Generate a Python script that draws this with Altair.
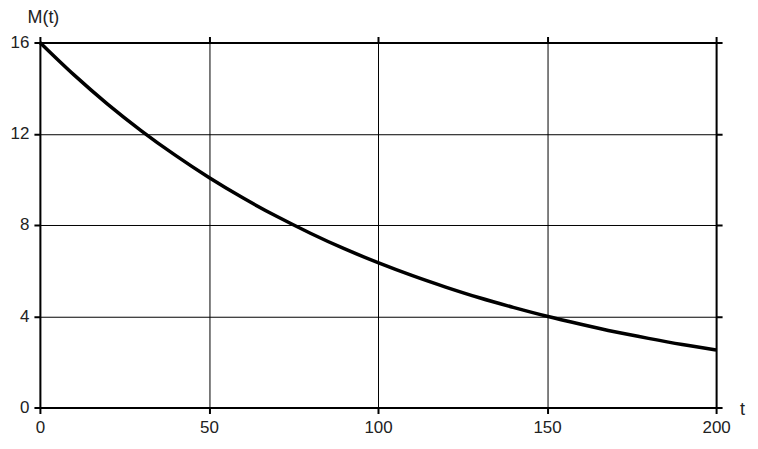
import altair as alt
import pandas as pd

# values
t_vals = [0, 10, 20, 30, 40, 50, 60, 70, 80, 90, 100, 110, 120, 130, 140, 150, 160, 170, 180, 190, 200]
m_vals = [16.0, 14.59, 13.3, 12.13, 11.06, 10.08, 9.19, 8.38, 7.64, 6.96, 6.35, 5.79, 5.28, 4.81, 4.39, 4.0, 3.65, 3.32, 3.03, 2.76, 2.52]
x_ticks = [0, 50, 100, 150, 200]
y_ticks = [0, 4, 8, 12, 16]

df = pd.DataFrame({"t": t_vals, "M": m_vals})

FONT = "Liberation Sans"
common_axis = dict(
    domainColor="black", domainWidth=2,
    tickColor="black", tickWidth=2, tickSize=6,
    gridColor="black", gridWidth=1, gridOpacity=1,
    labelFont=FONT, labelFontSize=17, labelColor="#222",
    titleFont=FONT, titleFontSize=18, titleColor="#222", titleFontWeight="normal",
)

xs = alt.Scale(domain=[0, 200], nice=False, zero=False)
ys = alt.Scale(domain=[0, 16], nice=False)

main = alt.Chart(df).mark_line(color="black", strokeWidth=3.5, interpolate="monotone").encode(
    x=alt.X("t:Q", scale=xs, axis=alt.Axis(
        orient="bottom", values=x_ticks, title="t", grid=True,
        labelPadding=6, labelFlush=False,
        titleAngle=0, titleX=704, titleY=7, titleAlign="center", titleBaseline="alphabetic",
        **common_axis)),
    y=alt.Y("M:Q", scale=ys, axis=alt.Axis(
        orient="left", values=y_ticks, title="M(t)", grid=True,
        labelPadding=5, labelFlush=False,
        titleAngle=0, titleX=3, titleY=-34, titleAlign="center", titleBaseline="top",
        **common_axis)),
)

second = alt.Chart(df).mark_line(strokeOpacity=0).encode(
    x=alt.X("t:Q", scale=xs, axis=alt.Axis(
        orient="top", values=x_ticks, title=None, labels=False, grid=False,
        domainColor="black", domainWidth=2, tickColor="black", tickWidth=2, tickSize=6)),
    y=alt.Y("M:Q", scale=ys, axis=alt.Axis(
        orient="right", values=y_ticks, title=None, labels=False, grid=False,
        domainColor="black", domainWidth=2, tickColor="black", tickWidth=2, tickSize=6)),
)

chart = alt.layer(main, second).resolve_axis(x="independent", y="independent").properties(
    width=678, height=366,
    padding={"left": 32, "top": 34, "right": 34, "bottom": 28},
    autosize="none",
).configure_view(stroke=None)

chart.save("out.html", embed_options={"renderer": "svg", "actions": False})
